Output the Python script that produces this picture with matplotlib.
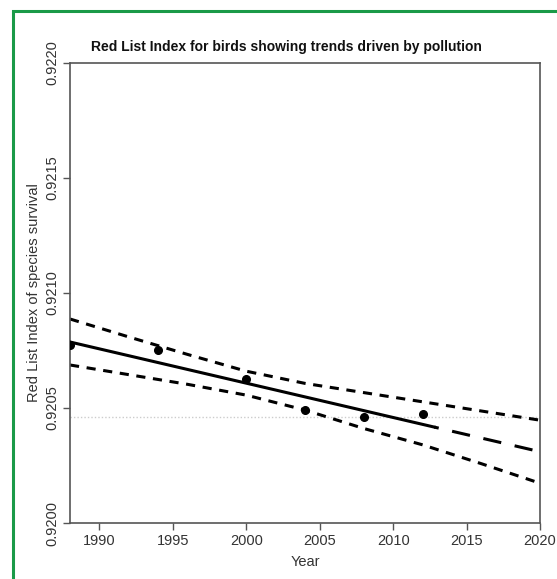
import matplotlib
matplotlib.use("Agg")
import matplotlib.pyplot as plt
from matplotlib.patches import Rectangle

plt.rcParams['font.family'] = ['Liberation Sans', 'DejaVu Sans']

# Observed RLI values
obs_years = [1988, 1994, 2000, 2004, 2008, 2012]
obs_values = [0.920774, 0.920752, 0.920625, 0.920491, 0.920460, 0.920473]

# Fitted trend (solid over data period, dashed projection)
fit_years = [1988, 2012.8]
fit_values = [0.920787, 0.920417]
proj_years = [2012.8, 2020]
proj_values = [0.920417, 0.920310]

# Confidence bounds
ci_years = [1988, 1992, 1996, 2000, 2004, 2008, 2012, 2016, 2020]
ci_upper = [0.920887, 0.920809, 0.920733, 0.920660, 0.920607, 0.920567, 0.920527, 0.920487, 0.920447]
ci_lower = [0.920687, 0.920645, 0.920603, 0.920556, 0.920491, 0.920411, 0.920340, 0.920258, 0.920173]

# Reference level
ref_level = 0.920460

x_ticks = [1990, 1995, 2000, 2005, 2010, 2015, 2020]
y_ticks = [0.9200, 0.9205, 0.9210, 0.9215, 0.9220]

fig = plt.figure(figsize=(5.57, 5.79), dpi=100)
# green frame
fig.patches.append(Rectangle((13.5/557, -0.1), 1.2, (579-11)/579 + 0.1, transform=fig.transFigure,
                             fill=False, edgecolor='#1a9a48', linewidth=2.2, zorder=0))

ax = fig.add_axes([70/557, 56/579, 470/557, 460/579])
ax.set_xlim(1988, 2020)
ax.set_ylim(0.9200, 0.9220)

ax.axhline(ref_level, color='#cccccc', linestyle=(0, (1, 1.5)), linewidth=1.0, zorder=1)
ax.plot(ci_years, ci_upper, color='black', linestyle=(0, (3, 2.5)), linewidth=2.2, zorder=2)
ax.plot(ci_years, ci_lower, color='black', linestyle=(0, (3, 2.5)), linewidth=2.2, zorder=2)
ax.plot(fit_years, fit_values, color='black', linestyle='-', linewidth=2.2, zorder=3)
ax.plot(proj_years, proj_values, color='black', linestyle=(4.5, (6, 4.5)), linewidth=2.2, zorder=3)
ax.plot(obs_years, obs_values, 'o', color='black', markersize=5.5, zorder=4)

ax.set_xticks(x_ticks)
ax.set_yticks(y_ticks)
ax.set_yticklabels([f"{v:.4f}" for v in y_ticks], rotation=90, va='center')
ax.tick_params(axis='both', direction='out', length=5, width=1, color='#555555',
               labelsize=10.5, labelcolor='#333333', pad=3)
for s in ax.spines.values():
    s.set_color('#555555')
    s.set_linewidth(1.2)

ax.set_xlabel('Year', fontsize=10.5, color='#333333', labelpad=5)
ax.set_ylabel('Red List Index of species survival', fontsize=10.5, color='#333333', labelpad=3)
fig.text(286.5/557, 1 - 47/579, 'Red List Index for birds showing trends driven by pollution',
         fontsize=10, fontweight='bold', color='#111111', ha='center', va='center')

fig.savefig('out.png', dpi=100)
